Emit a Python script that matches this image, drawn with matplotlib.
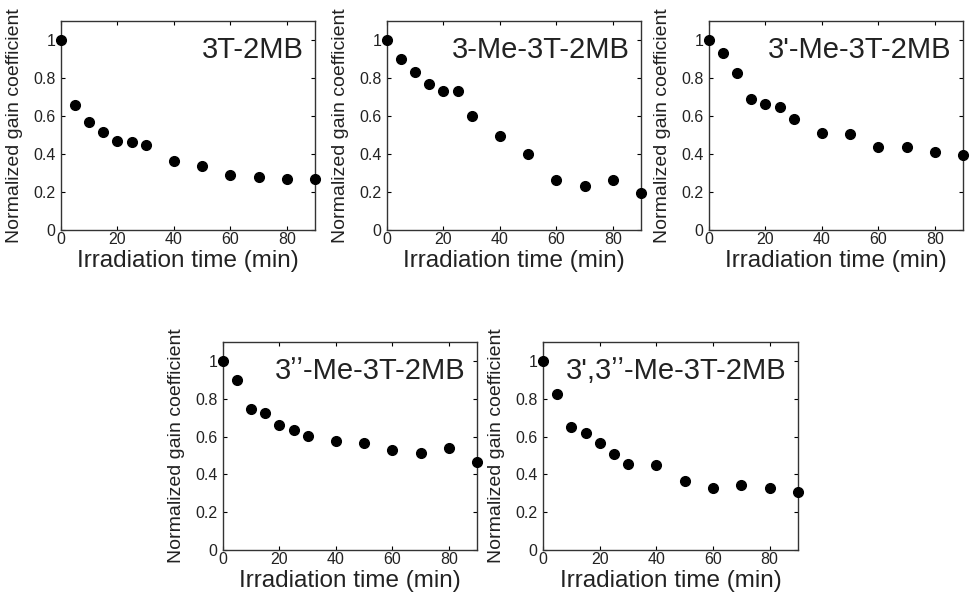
import numpy as np
import matplotlib
matplotlib.use("Agg")
import matplotlib.pyplot as plt

plt.rcParams["font.family"] = ["Liberation Sans", "DejaVu Sans"]

time_min = [0, 5, 10, 15, 20, 25, 30, 40, 50, 60, 70, 80, 90]

names = ["3T-2MB", "3-Me-3T-2MB", "3'-Me-3T-2MB", "3\u02bc\u02bc-Me-3T-2MB", "3',3\u02bc\u02bc-Me-3T-2MB"]

gain_3t = [1.0, 0.658, 0.567, 0.515, 0.468, 0.461, 0.445, 0.363, 0.337, 0.288, 0.279, 0.27, 0.267]
gain_3me = [1.0, 0.899, 0.832, 0.768, 0.733, 0.733, 0.602, 0.494, 0.398, 0.265, 0.232, 0.265, 0.197]
gain_3pme = [1.0, 0.93, 0.824, 0.689, 0.663, 0.646, 0.585, 0.51, 0.506, 0.436, 0.436, 0.41, 0.396]
gain_3ppme = [1.0, 0.9, 0.746, 0.725, 0.663, 0.635, 0.605, 0.574, 0.565, 0.53, 0.512, 0.539, 0.465]
gain_3p3ppme = [1.0, 0.825, 0.649, 0.619, 0.567, 0.509, 0.456, 0.447, 0.365, 0.328, 0.342, 0.328, 0.307]

series = [gain_3t, gain_3me, gain_3pme, gain_3ppme, gain_3p3ppme]

W, H = 971, 605
# axes boxes in pixels: left, right, top, bottom
boxes = [(61, 315, 21, 230), (387, 641, 21, 230), (709, 963, 21, 230),
         (223, 477, 342, 550), (543, 798, 342, 550)]

txt = "#222222"
fig = plt.figure(figsize=(W / 100, H / 100), dpi=100)
for (l, r, t, b), name, g in zip(boxes, names, series):
    ax = fig.add_axes([l / W, 1 - b / H, (r - l) / W, (b - t) / H])
    ax.plot(time_min, g, "o", color="black", ms=7, clip_on=False, zorder=5)
    ax.set_xlim(0, 90)
    ax.set_ylim(0, 1.1)
    ax.set_xticks([0, 20, 40, 60, 80])
    ax.set_yticks([0, 0.2, 0.4, 0.6, 0.8, 1.0])
    ax.set_yticklabels(["0", "0.2", "0.4", "0.6", "0.8", "1"])
    ax.tick_params(direction="in", top=True, right=True, length=3, width=0.8,
                   labelsize=11.5, labelcolor=txt)
    ax.tick_params(axis="x", pad=1.5)
    ax.tick_params(axis="y", pad=4)
    for s in ax.spines.values():
        s.set_linewidth(1.0)
        s.set_color("#333333")
    ax.set_xlabel("Irradiation time (min)", fontsize=17.5, color=txt, labelpad=2)
    ax.set_ylabel("Normalized gain coefficient", fontsize=14, color=txt, labelpad=7)
    ax.text(0.955, 0.93, name, transform=ax.transAxes, ha="right", va="top",
            fontsize=21, color=txt)

plt.savefig("out.png", dpi=100)
